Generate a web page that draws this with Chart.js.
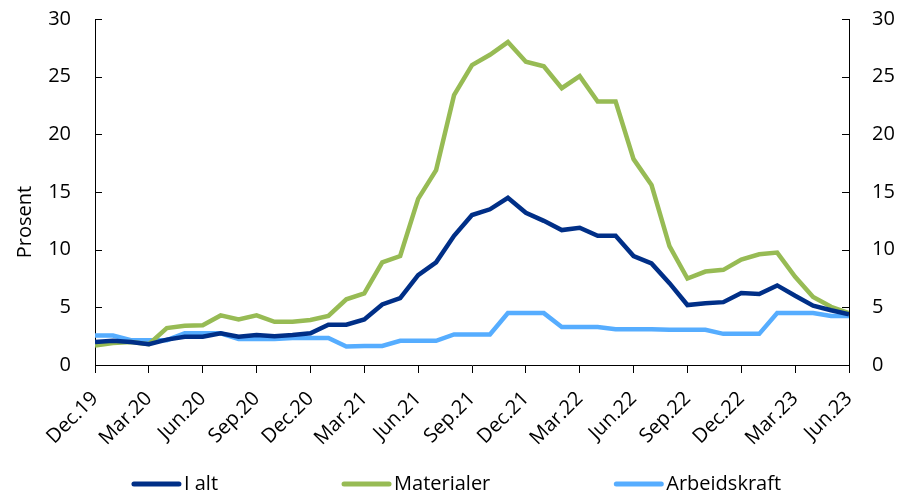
<!DOCTYPE html>
<html>
<head>
<meta charset="utf-8">
<script src="https://cdn.jsdelivr.net/npm/chart.js@4/dist/chart.umd.min.js"></script>
<style>
  html, body { margin: 0; padding: 0; background: #fff; }
  #wrap { width: 901px; height: 493px; }
</style>
</head>
<body>
<div id="wrap"><canvas id="myChart" width="901" height="493"></canvas></div>
<script>
// months Dec.19 .. Jun.23
var months = ["Dec.19","Jan.20","Feb.20","Mar.20","Apr.20","May.20","Jun.20","Jul.20","Aug.20","Sep.20","Oct.20","Nov.20",
  "Dec.20","Jan.21","Feb.21","Mar.21","Apr.21","May.21","Jun.21","Jul.21","Aug.21","Sep.21","Oct.21","Nov.21",
  "Dec.21","Jan.22","Feb.22","Mar.22","Apr.22","May.22","Jun.22","Jul.22","Aug.22","Sep.22","Oct.22","Nov.22",
  "Dec.22","Jan.23","Feb.23","Mar.23","Apr.23","May.23","Jun.23"];

var iAlt = [2.0, 2.1, 2.0, 1.8, 2.2, 2.45, 2.45, 2.75, 2.45, 2.6, 2.5, 2.6,
  2.75, 3.5, 3.5, 3.95, 5.25, 5.8, 7.8, 8.9, 11.2, 13.0, 13.5, 14.5,
  13.2, 12.5, 11.7, 11.9, 11.2, 11.2, 9.45, 8.8, 7.1, 5.2, 5.35, 5.45,
  6.25, 6.15, 6.9, 6.0, 5.15, 4.75, 4.4];

var materialer = [1.7, 1.9, 2.0, 1.8, 3.2, 3.4, 3.45, 4.3, 3.95, 4.3, 3.75, 3.75,
  3.9, 4.25, 5.7, 6.2, 8.9, 9.45, 14.4, 16.9, 23.4, 26.0, 26.9, 28.0,
  26.3, 25.9, 24.0, 25.05, 22.85, 22.85, 17.85, 15.6, 10.3, 7.5, 8.1, 8.25,
  9.15, 9.6, 9.75, 7.65, 5.9, 5.05, 4.5];

var arbeidskraft = [2.55, 2.55, 2.15, 2.15, 2.15, 2.75, 2.75, 2.75, 2.25, 2.25, 2.25, 2.35,
  2.35, 2.35, 1.6, 1.65, 1.65, 2.1, 2.1, 2.1, 2.65, 2.65, 2.65, 4.5,
  4.5, 4.5, 3.3, 3.3, 3.3, 3.1, 3.1, 3.1, 3.05, 3.05, 3.05, 2.7,
  2.7, 2.7, 4.5, 4.5, 4.5, 4.25, 4.25];

var yTitle = "Prosent";
var fontFamily = "'Open Sans', 'Noto Sans', sans-serif";

function toPoints(arr) {
  return arr.map(function(v, i) { return { x: i, y: v }; });
}

// small inward tick marks on both y axes + the left axis title
var axisExtras = {
  id: 'axisExtras',
  afterDraw: function(chart) {
    var ctx = chart.ctx;
    var area = chart.chartArea;
    var left = chart.scales.y;
    var right = chart.scales.y2;
    ctx.save();
    ctx.strokeStyle = '#000';
    ctx.lineWidth = 1;
    left.ticks.forEach(function(t) {
      var py = Math.round(left.getPixelForValue(t.value)) + 0.5;
      ctx.beginPath();
      ctx.moveTo(area.left, py);
      ctx.lineTo(area.left + 7, py);
      ctx.stroke();
    });
    right.ticks.forEach(function(t) {
      var py = Math.round(right.getPixelForValue(t.value)) + 0.5;
      ctx.beginPath();
      ctx.moveTo(area.right, py);
      ctx.lineTo(area.right - 7, py);
      ctx.stroke();
    });
    // title sits a little below the axis middle, as in the original
    ctx.translate(25, (area.top + area.bottom) / 2 + 30);
    ctx.rotate(-Math.PI / 2);
    ctx.font = '20px ' + fontFamily;
    ctx.fillStyle = '#000';
    ctx.textAlign = 'center';
    ctx.textBaseline = 'middle';
    ctx.fillText(yTitle, 0, 0);
    ctx.restore();
  }
};

// legend drawn at the bottom with wide gaps between items
var bottomLegend = {
  id: 'bottomLegend',
  afterDraw: function(chart) {
    var ctx = chart.ctx;
    var lineW = 49, gap = 3, itemGap = 124;
    ctx.save();
    ctx.font = '20px ' + fontFamily;
    ctx.textBaseline = 'middle';
    var sets = chart.data.datasets;
    var total = 0;
    sets.forEach(function(ds, i) {
      total += lineW + gap + ctx.measureText(ds.label).width;
      if (i < sets.length - 1) total += itemGap;
    });
    var x = chart.width / 2 + 6 - total / 2;
    var y = chart.height - 9;
    sets.forEach(function(ds) {
      ctx.strokeStyle = ds.borderColor;
      ctx.lineWidth = 5;
      ctx.lineCap = 'round';
      ctx.beginPath();
      ctx.moveTo(x + 2, y);
      ctx.lineTo(x + lineW - 2, y);
      ctx.stroke();
      x += lineW + gap;
      ctx.fillStyle = '#000';
      ctx.fillText(ds.label, x, y);
      x += ctx.measureText(ds.label).width + itemGap;
    });
    ctx.restore();
  }
};

Chart.defaults.font.family = fontFamily;
Chart.defaults.font.size = 20;
Chart.defaults.color = '#000';

new Chart("myChart", {
  type: 'line',
  data: {
    datasets: [
      { label: 'I alt', data: toPoints(iAlt), borderColor: '#002f87', backgroundColor: '#002f87' },
      { label: 'Materialer', data: toPoints(materialer), borderColor: '#97bb54', backgroundColor: '#97bb54' },
      { label: 'Arbeidskraft', data: toPoints(arbeidskraft), borderColor: '#56adff', backgroundColor: '#56adff' }
    ]
  },
  options: {
    responsive: false,
    animation: false,
    layout: { padding: { left: 6, right: 4, top: 19, bottom: 40 } },
    elements: {
      line: { borderWidth: 4.5, tension: 0 },
      point: { radius: 0 }
    },
    scales: {
      x: {
        type: 'linear',
        min: 0,
        max: 42,
        ticks: {
          stepSize: 3,
          maxRotation: 45,
          minRotation: 45,
          padding: 14,
          callback: function(value) { return months[value]; }
        },
        grid: { display: true, drawOnChartArea: false, color: '#000', tickLength: 8 },
        border: { color: '#000', width: 1 },
        afterFit: function(scale) {
          scale.height = 88;
          scale.paddingLeft = 0;
          scale.paddingRight = 0;
        }
      },
      y: {
        position: 'left',
        min: 0,
        max: 30,
        ticks: { stepSize: 5, padding: 16 },
        grid: { display: false },
        border: { color: '#000', width: 1 },
        afterFit: function(scale) {
          scale.width = 89;
          scale.paddingTop = 0;
          scale.paddingBottom = 0;
        }
      },
      y2: {
        position: 'right',
        min: 0,
        max: 30,
        ticks: { stepSize: 5, padding: 15 },
        grid: { display: false },
        border: { color: '#000', width: 1 },
        afterFit: function(scale) {
          scale.width = 48;
          scale.paddingTop = 0;
          scale.paddingBottom = 0;
        }
      }
    },
    plugins: {
      legend: { display: false },
      tooltip: { enabled: false }
    }
  },
  plugins: [axisExtras, bottomLegend]
});
</script>
</body>
</html>
